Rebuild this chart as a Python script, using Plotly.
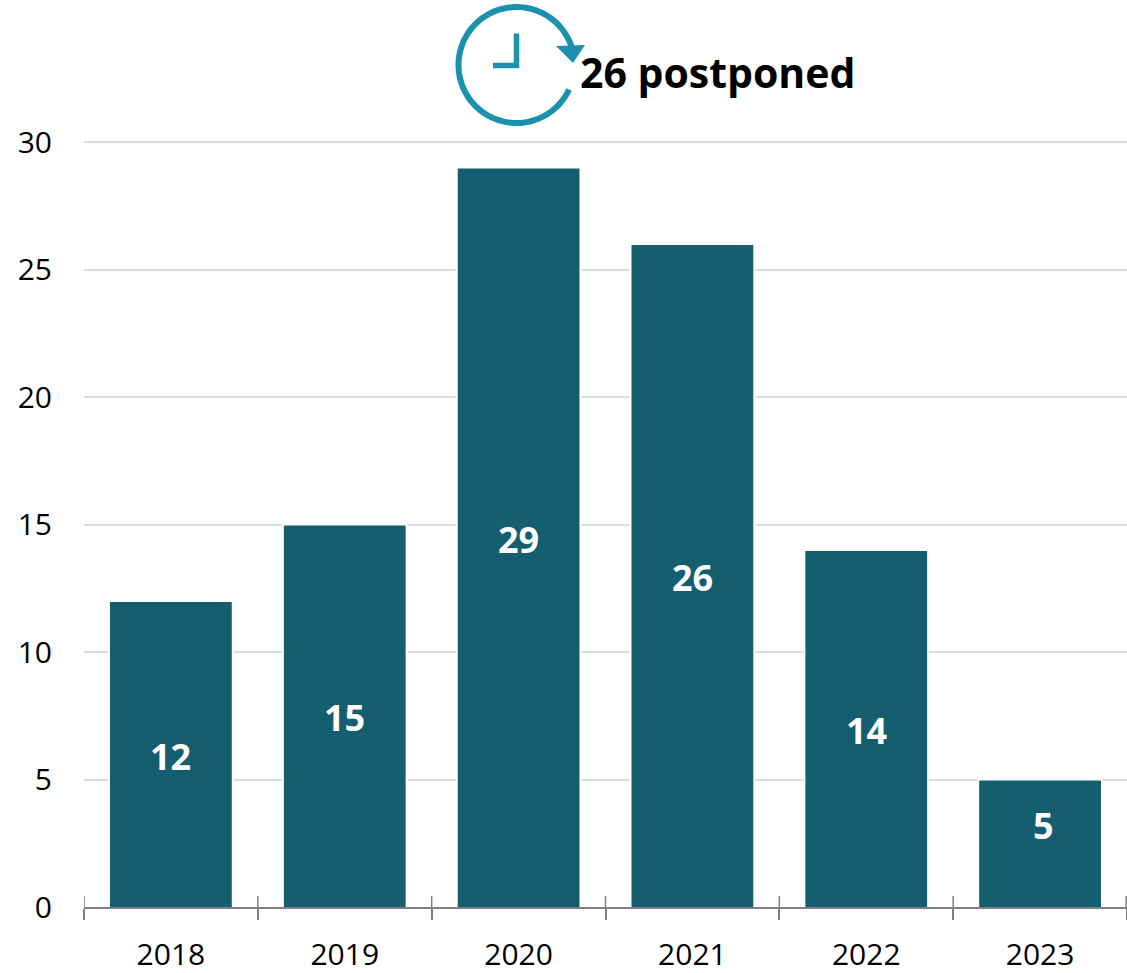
import math
import plotly.graph_objects as go

years = ["2018", "2019", "2020", "2021", "2022", "2023"]
postponed = [12, 15, 29, 26, 14, 5]
y_ticks = [0, 5, 10, 15, 20, 25, 30]
headline = "26 postponed"
label_shift_y = [-2, -2, -2, -2, -2, 18]
label_shift_x = [0, 0, 0, 0, 0, 3]

W, H = 1127, 973
L, R, T, B = 84, 0, 141, 66
FONT = "Open Sans"
BAR = "#145E70"
ICON = "#1C91AD"
AXIS = "#808080"
GRID = "#DCDCDC"
BASE_PAD = 0.08  # hides the white bar outline behind the axis line


def px(x):
    return (x - L) / (W - L - R)


def py(y):
    return 1 - (y - T) / (H - T - B)


def path(points, close=False):
    s = "M" + " L".join(f"{px(x):.5f},{py(y):.5f}" for x, y in points)
    return s + (" Z" if close else "")


fig = go.Figure(
    go.Bar(
        x=years,
        y=[v + BASE_PAD for v in postponed],
        base=-BASE_PAD,
        width=0.712,
        marker=dict(color=BAR, line=dict(width=2, color="white")),
        customdata=postponed,
        hovertemplate="%{x}: %{customdata}<extra></extra>",
    )
)

shapes = []
# icon: clock with a circular arrow
cx, cy, r = 516.5, 65, 58
arc = []
for i in range(0, 121):
    a = math.radians(-14 - i * (360 - 14 - 25) / 120)
    arc.append((cx + r * math.cos(a), cy + r * math.sin(a)))
shapes.append(dict(type="path", xref="paper", yref="paper", path=path(arc),
                   line=dict(color=ICON, width=6)))
shapes.append(dict(type="path", xref="paper", yref="paper",
                   path=path([(556, 46), (585, 45), (573, 63)], True),
                   fillcolor=ICON, line=dict(color=ICON, width=0)))
shapes.append(dict(type="path", xref="paper", yref="paper",
                   path=path([(516.5, 33.5), (516.5, 65.5), (493, 65.5)]),
                   line=dict(color=ICON, width=5.5)))
# upper halves of the category separators
for i in range(len(years) + 1):
    xpos = min(i - 0.5, len(years) - 0.505)
    shapes.append(dict(type="line", xref="x", yref="paper", x0=xpos, x1=xpos,
                       y0=0, y1=py(896), line=dict(color=AXIS, width=1.5)))

annotations = [
    dict(text=headline, xref="paper", yref="paper", x=px(578), y=py(72),
         xanchor="left", yanchor="middle", showarrow=False,
         font=dict(family=FONT, size=41, color="black", weight="bold")),
]
for i, (value, sy, sx) in enumerate(zip(postponed, label_shift_y, label_shift_x)):
    annotations.append(
        dict(text=str(value), xref="x", yref="y", x=i, y=value / 2, yshift=sy, xshift=sx,
             xanchor="center", yanchor="middle", showarrow=False,
             font=dict(family=FONT, size=36, color="white", weight="bold"))
    )

fig.update_layout(
    width=W,
    height=H,
    margin=dict(l=L, r=R, t=T, b=B, autoexpand=False),
    paper_bgcolor="white",
    plot_bgcolor="white",
    showlegend=False,
    font=dict(family=FONT, color="black", size=30),
    shapes=shapes,
    annotations=annotations,
    xaxis=dict(
        type="category",
        tickson="boundaries",
        ticks="outside",
        ticklen=11,
        tickwidth=1.5,
        tickcolor=AXIS,
        showline=True,
        linecolor=AXIS,
        linewidth=2,
        showgrid=False,
        range=[-0.5, 5.5],
        ticklabelstandoff=20,
        tickfont=dict(size=30, family=FONT),
    ),
    yaxis=dict(
        range=[0, 30.04],
        tickvals=y_ticks,
        ticks="",
        showline=False,
        gridcolor=GRID,
        gridwidth=2,
        zeroline=False,
        ticklabelstandoff=31,
        tickfont=dict(size=30, family=FONT),
    ),
)

fig.write_html("out.html", config={"displayModeBar": False},
               post_script="document.body.style.margin='0';")
